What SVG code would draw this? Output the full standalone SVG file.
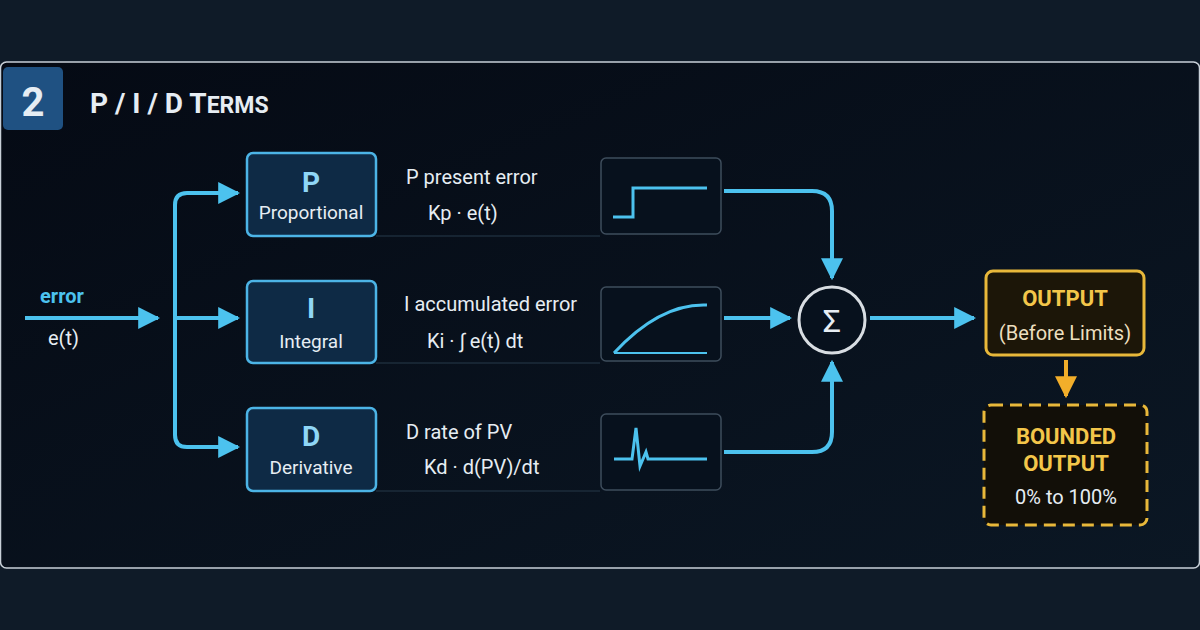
<svg xmlns="http://www.w3.org/2000/svg" width="1200" height="630" viewBox="0 0 1200 630">
<style>
.t{font-family:Roboto,"Liberation Sans",sans-serif;fill:#e6edf3}
.c{stroke:#4cc2ee;stroke-width:4;fill:none}
.box{fill:#0e2a45;stroke:#4cb4e6;stroke-width:2.5}
.gb{fill:#07111d;stroke:#3e4d5c;stroke-width:1.5}
.g{stroke:#4cc2ee;stroke-width:3;fill:none}
.big{font-size:28px;font-weight:bold;fill:#8fd6f6;text-anchor:middle}
.sub{font-size:19px;text-anchor:middle}
.desc{font-size:20px}
.gold{fill:#f3c64a;font-weight:bold;text-anchor:middle;font-size:22px}
</style>
<defs>
<marker id="a" viewBox="0 0 10 10" refX="9" refY="5" markerWidth="5.5" markerHeight="5.5" orient="auto"><path d="M0,0L10,5L0,10z" fill="#4cc2ee"/></marker>
<marker id="y" viewBox="0 0 10 10" refX="9" refY="5" markerWidth="5.5" markerHeight="5.5" orient="auto"><path d="M0,0L10,5L0,10z" fill="#f2ae2a"/></marker>
<linearGradient id="bg" x1="0" y1="0" x2="1" y2="1"><stop offset="0" stop-color="#050a14"/><stop offset="1" stop-color="#0b1724"/></linearGradient>
</defs>
<rect width="1200" height="630" fill="#0f1b28"/>
<rect x="0.5" y="62" width="1199" height="506" rx="6" fill="url(#bg)" stroke="#c8d0d8" stroke-width="1.5"/>
<g id="title">
<rect x="3" y="67" width="60" height="63" rx="5" fill="#1f5182"/>
<text class="t" x="33" y="116" font-size="40" font-weight="bold" text-anchor="middle">2</text>
<text class="t" x="90" y="113" font-size="28" font-weight="bold">P / I / D T<tspan font-size="23">ERMS</tspan></text>
</g>
<g id="input">
<text class="t" x="40" y="303" font-size="20" font-weight="bold" style="fill:#4cc2ee">error</text>
<text class="t" x="48" y="345" font-size="20">e(t)</text>
</g>
<g id="connectors">
<path class="c" d="M25,318H158" marker-end="url(#a)"/>
<path class="c" d="M175,318H238" marker-end="url(#a)"/>
<path class="c" d="M175,318V205Q175,193 187,193H238" marker-end="url(#a)"/>
<path class="c" d="M175,318V435Q175,447 187,447H238" marker-end="url(#a)"/>
<path class="c" d="M724,191H812Q832,191 832,211V278" marker-end="url(#a)"/>
<path class="c" d="M724,318H790" marker-end="url(#a)"/>
<path class="c" d="M724,452H812Q832,452 832,432V362" marker-end="url(#a)"/>
<path class="c" d="M870,318H974" marker-end="url(#a)"/>
<path d="M1066,360V396" stroke="#f2ae2a" stroke-width="4" fill="none" marker-end="url(#y)"/>
</g>
<g stroke="#1d2c3b" stroke-width="1.5"><path d="M376,236H600M376,363H600M376,491H600"/></g>
<g id="P">
<rect class="box" x="247" y="153" width="129" height="83" rx="6"/>
<text class="t big" x="311" y="192">P</text>
<text class="t sub" x="311" y="219">Proportional</text>
<text class="t desc" x="406" y="184">P present error</text>
<text class="t desc" x="428" y="220">Kp · e(t)</text>
<rect class="gb" x="601" y="158" width="120" height="76" rx="5"/>
<path class="g" d="M613,217H633V188H707"/>
</g>
<g id="I">
<rect class="box" x="247" y="281" width="129" height="82" rx="6"/>
<text class="t big" x="311" y="318">I</text>
<text class="t sub" x="311" y="348">Integral</text>
<text class="t desc" x="404" y="311">I accumulated error</text>
<text class="t desc" x="427" y="348">Ki · ∫ e(t) dt</text>
<rect class="gb" x="601" y="287" width="120" height="74" rx="5"/>
<path class="g" d="M614,353Q660,303 707,305"/>
<path d="M614,353H707" stroke="#4cc2ee" stroke-width="2"/>
</g>
<g id="D">
<rect class="box" x="247" y="408" width="129" height="83" rx="6"/>
<text class="t big" x="311" y="446">D</text>
<text class="t sub" x="311" y="474">Derivative</text>
<text class="t desc" x="406" y="439">D rate of PV</text>
<text class="t desc" x="424" y="474">Kd · d(PV)/dt</text>
<rect class="gb" x="601" y="414" width="120" height="76" rx="5"/>
<path class="g" d="M614,459H632L636,428L640,466L646,452L648,459H707"/>
</g>
<g id="sum">
<circle cx="832" cy="320" r="33" fill="#07111d" stroke="#d8dde2" stroke-width="3"/>
<text class="t" x="832" y="332" font-size="32" text-anchor="middle">Σ</text>
</g>
<g id="output">
<rect x="986" y="271" width="158" height="84" rx="7" fill="#1c1608" stroke="#e8b83a" stroke-width="3"/>
<text class="t gold" x="1065" y="306">OUTPUT</text>
<text class="t" x="1065" y="340" font-size="20" text-anchor="middle" style="fill:#ecdfbf">(Before Limits)</text>
</g>
<g id="bounded">
<rect x="984" y="405" width="163" height="120" rx="7" fill="#120f08" stroke="#e8b83a" stroke-width="3" stroke-dasharray="12,7"/>
<text class="t gold" x="1066" y="444">BOUNDED</text>
<text class="t gold" x="1066" y="471">OUTPUT</text>
<text class="t" x="1066" y="504" font-size="20" text-anchor="middle">0% to 100%</text>
</g>
</svg>
